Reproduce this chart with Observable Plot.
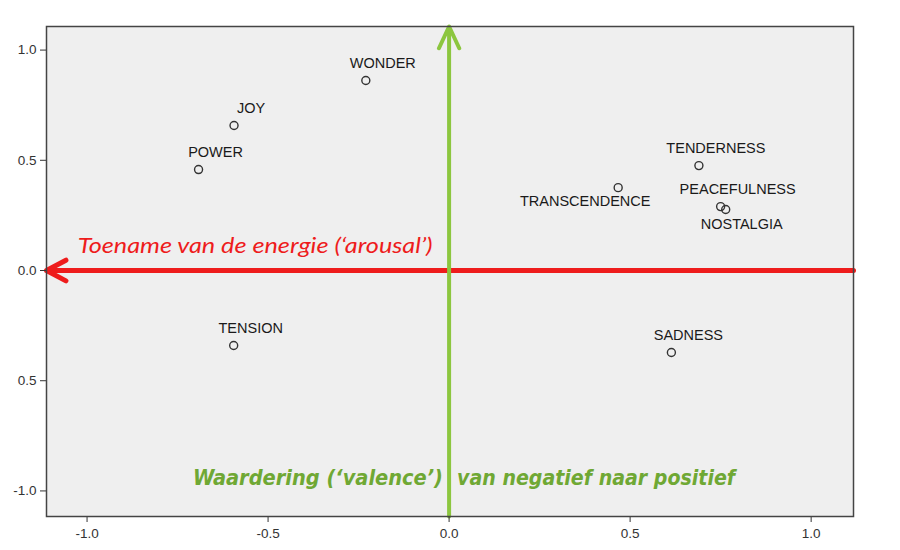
<!DOCTYPE html>
<html><head><meta charset="utf-8">
<script src="https://cdn.jsdelivr.net/npm/d3@7"></script>
<script src="https://cdn.jsdelivr.net/npm/@observablehq/plot@0.6"></script>
<style>body{margin:0;background:#fff} svg{display:block}</style>
</head><body><div id="chart"></div>
<script>
const emotions = ["WONDER","JOY","POWER","TENSION","TENDERNESS","TRANSCENDENCE","PEACEFULNESS","NOSTALGIA","SADNESS"];
const valence  = [-0.23, -0.594, -0.692, -0.595, 0.69, 0.467, 0.75, 0.764, 0.614];
const arousal  = [0.862, 0.658, 0.458, -0.34, 0.476, 0.376, 0.29, 0.277, -0.372];
const xTicks = [-1, -0.5, 0, 0.5, 1];
const xTickLabels = ["-1.0", "-0.5", "0.0", "0.5", "1.0"];
const yTicks = [-1, -0.5, 0, 0.5, 1];
const yTickLabels = ["-1.0", "0.5", "0.0", "0.5", "1.0"];
const arousalLabel = "Toename van de energie (‘arousal’)";
const valenceLabelA = "Waardering (‘valence’)";
const valenceLabelB = "van negatief naar positief";

const xDomain = [-1.112, 1.117];
const yDomain = [-1.116, 1.107];

const data = emotions.map((name, i) => ({name, x: valence[i], y: arousal[i]}));
const belowLeft = data.filter(d => d.name === "TRANSCENDENCE");
const belowRight = data.filter(d => d.name === "NOSTALGIA");
const above = data.filter(d => d.name !== "TRANSCENDENCE" && d.name !== "NOSTALGIA");

const red = "#ee1c1c";
const green = "#8cc63f";
const greenText = "#6fa834";

const chart = Plot.plot({
  width: 900, height: 550,
  marginLeft: 46, marginRight: 47, marginTop: 26, marginBottom: 34,
  x: {domain: xDomain, label: null},
  y: {domain: yDomain, label: null},
  style: {fontFamily: "'Liberation Sans', Arial, sans-serif", fontSize: "13px", color: "#333", background: "#fff"},
  marks: [
    Plot.frame({fill: "#efefef", stroke: null}),
    Plot.arrow([{x1: xDomain[1], x2: xDomain[0], y: 0}], {x1: "x1", x2: "x2", y1: "y", y2: "y", stroke: red, strokeWidth: 5, headLength: 6.6, headAngle: 56}),
    Plot.arrow([{x: 0, y1: yDomain[0], y2: yDomain[1]}], {x1: "x", x2: "x", y1: "y1", y2: "y2", stroke: green, strokeWidth: 4, headLength: 9, headAngle: 50}),
    Plot.text([arousalLabel], {x: -1.026, y: 0.113, text: d => d, textAnchor: "start", fill: red, fontSize: 22, fontStyle: "italic", fontFamily: "Lato, 'Open Sans', sans-serif"}),
    Plot.text([valenceLabelA], {x: -0.017, y: -0.943, text: d => d, textAnchor: "end", fill: greenText, fontSize: 22, fontStyle: "italic", fontWeight: "bold", fontFamily: "'DejaVu Sans Condensed', 'DejaVu Sans', sans-serif"}),
    Plot.text([valenceLabelB], {x: 0.022, y: -0.943, text: d => d, textAnchor: "start", fill: greenText, fontSize: 22, fontStyle: "italic", fontWeight: "bold", fontFamily: "'DejaVu Sans Condensed', 'DejaVu Sans', sans-serif"}),
    Plot.dot(data, {x: "x", y: "y", r: 4, stroke: "#333", strokeWidth: 1.4, fill: "none"}),
    Plot.text(above, {x: "x", y: "y", text: "name", dx: 17, dy: -17, fill: "#1a1a1a", fontSize: 14.5}),
    Plot.text(belowLeft, {x: "x", y: "y", text: "name", dx: -33, dy: 14, fill: "#1a1a1a", fontSize: 14.5}),
    Plot.text(belowRight, {x: "x", y: "y", text: "name", dx: 16, dy: 15, fill: "#1a1a1a", fontSize: 14.5}),
    Plot.axisX({ticks: xTicks, tickFormat: d => xTickLabels[xTicks.indexOf(d)], tickSize: 6, tickPadding: 6, fontSize: 13.5, label: null}),
    Plot.axisY({ticks: yTicks, tickFormat: d => yTickLabels[yTicks.indexOf(d)], tickSize: 6, tickPadding: 4, fontSize: 13.5, label: null}),
    Plot.frame({stroke: "#444", strokeWidth: 1.5})
  ]
});
document.getElementById("chart").appendChild(chart);

const fitText = (content, len) => {
  chart.querySelectorAll("text").forEach(t => {
    if (t.textContent === content) {
      t.setAttribute("textLength", len);
      t.setAttribute("lengthAdjust", "spacingAndGlyphs");
    }
  });
};
fitText(arousalLabel, 355);
fitText(valenceLabelA, 250);
fitText(valenceLabelB, 278);
</script>
</body></html>
